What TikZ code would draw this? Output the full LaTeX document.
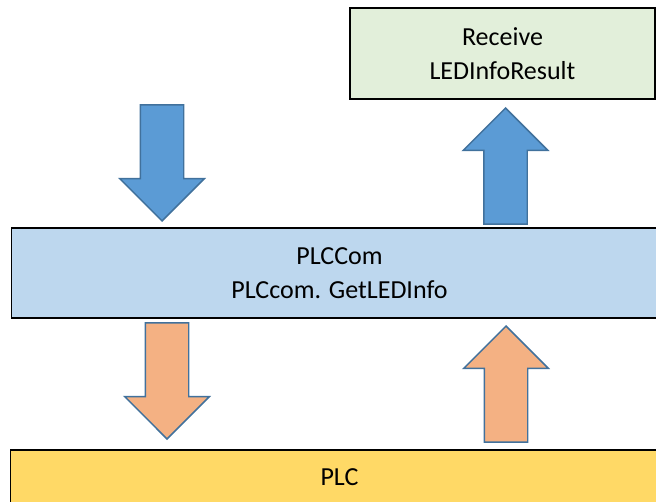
\documentclass[tikz,border=0pt]{standalone}
\usepackage{fontspec}
\setmainfont{Carlito}
\usetikzlibrary{shapes.arrows}

\definecolor{recvgreen}{HTML}{E2EFDA}
\definecolor{comblue}{HTML}{BDD7EE}
\definecolor{plcyellow}{HTML}{FFD966}
\definecolor{arrblue}{HTML}{5B9BD5}
\definecolor{arrorange}{HTML}{F4B183}
\definecolor{arredge}{HTML}{41719C}

\tikzset{
  layer/.style={draw=black, line width=1.1pt, rectangle, inner sep=0pt, align=center,
    font=\fontsize{19.5}{25.5}\selectfont},
  bigarrow/.style={single arrow, draw=arredge, line width=1.1pt, inner xsep=0pt, inner ysep=15.75pt,
    minimum height=87pt, single arrow head extend=15.4pt,
    single arrow tip angle=90, anchor=tip},
}

\begin{document}
\begin{tikzpicture}[x=0.75pt, y=0.75pt]
    \useasboundingbox (0,0) rectangle (656,-502);
    \node [layer, fill=recvgreen, minimum width=228.75pt, minimum height=68.25pt] (recv) at (502.5,-53.5) {Receive\\LEDInfoResult};
    \node [layer, fill=comblue, minimum width=492pt, minimum height=67.5pt] (plccom) at (339.5,-273) {PLCCom\\PLCcom. GetLEDInfo};
    \node [layer, fill=plcyellow, minimum width=493.5pt, minimum height=40.5pt] (plc) at (339.5,-477) {PLC};
    % arrows between the layers (placed by their tips)
    \node [bigarrow, fill=arrblue, rotate=-90] (callin) at (162,-222) {};
    \node [bigarrow, fill=arrblue, rotate=90] (resout) at (505.5,-107) {};
    \node [bigarrow, fill=arrorange, rotate=-90] (tocpu) at (167,-440) {};
    \node [bigarrow, fill=arrorange, rotate=90] (fromcpu) at (506,-325) {};
  \end{tikzpicture}
\end{document}
